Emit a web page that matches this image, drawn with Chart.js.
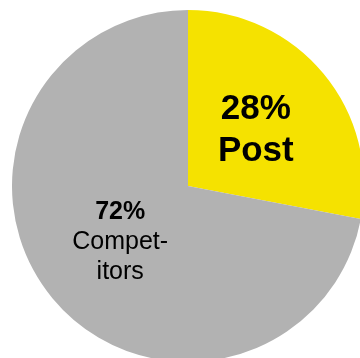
<!DOCTYPE html>
<html>
<head>
<meta charset="utf-8">
<script src="https://cdn.jsdelivr.net/npm/chart.js@4"></script>
<style>
html, body { margin: 0; padding: 0; width: 360px; height: 358px; overflow: hidden; background: #fff; }
#wrap { position: absolute; left: 12px; top: 10px; width: 352px; height: 352px; }
</style>
</head>
<body>
<div id="wrap"><canvas id="pieChart" width="352" height="352"></canvas></div>
<script>
var categories = ['Post', 'Competitors'];
var shares = [28, 72];
var nameLines = [['Post'], ['Compet-', 'itors']];
var sliceColors = ['#F5E200', '#B2B2B2'];

// per slice text style: [percent font, name font, line height]
var labelStyle = [
    ['bold 35px "Liberation Sans", Arial, sans-serif', 'bold 35px "Liberation Sans", Arial, sans-serif', 42],
    ['bold 25px "Liberation Sans", Arial, sans-serif', '25px "Liberation Sans", Arial, sans-serif', 30]
];

var sliceLabels = {
    id: 'sliceLabels',
    afterDatasetsDraw: function(chart) {
        var ctx = chart.ctx;
        var meta = chart.getDatasetMeta(0);
        meta.data.forEach(function(arc, i) {
            var p = arc.getCenterPoint();
            var lines = [shares[i] + '%'].concat(nameLines[i]);
            var st = labelStyle[i];
            var top = p.y - (lines.length - 1) * st[2] / 2;
            ctx.save();
            ctx.fillStyle = '#000';
            ctx.textAlign = 'center';
            ctx.textBaseline = 'middle';
            lines.forEach(function(t, k) {
                ctx.font = k === 0 ? st[0] : st[1];
                ctx.fillText(t, p.x, top + k * st[2]);
            });
            ctx.restore();
        });
    }
};

document.addEventListener('DOMContentLoaded', function(){
    var ctx = document.getElementById('pieChart').getContext('2d');
    var pieChart = new Chart(ctx, {
        type: 'pie',
        data: {
            labels: categories,
            datasets: [{
                data: shares,
                backgroundColor: sliceColors,
                borderWidth: 0
            }]
        },
        options: {
            responsive: false,
            animation: false,
            devicePixelRatio: 1,
            layout: { padding: 0 },
            plugins: {
                legend: { display: false },
                tooltip: { enabled: false }
            }
        },
        plugins: [sliceLabels]
    });
});
</script>
</body>
</html>
